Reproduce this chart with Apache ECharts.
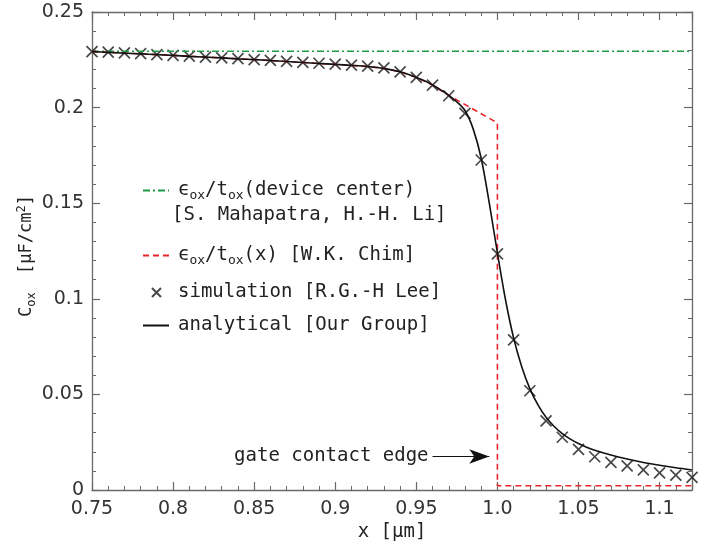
<!DOCTYPE html>
<html>
<head>
<meta charset="utf-8">
<script src="https://cdn.jsdelivr.net/npm/echarts/dist/echarts.min.js"></script>
<style>
  html, body { margin: 0; padding: 0; background: #fff; }
  #chart { width: 716px; height: 544px; }
</style>
</head>
<body>
<div id="chart"></div>
<script>
// 仿真数据 (x in µm, Cox in µF/cm²)
const simX = [0.75, 0.76, 0.77, 0.78, 0.79, 0.80, 0.81, 0.82, 0.83, 0.84, 0.85, 0.86, 0.87, 0.88, 0.89,
  0.90, 0.91, 0.92, 0.93, 0.94, 0.95, 0.96, 0.97, 0.98, 0.99, 1.00, 1.01, 1.02, 1.03, 1.04, 1.05,
  1.06, 1.07, 1.08, 1.09, 1.10, 1.11, 1.12]
const simY = [0.2293, 0.2290, 0.2286, 0.2282, 0.2277, 0.2273, 0.2269, 0.2264, 0.2260, 0.2256, 0.2251,
  0.2247, 0.2242, 0.2237, 0.2232, 0.2227, 0.2222, 0.2217, 0.2208, 0.2187, 0.2158, 0.2118, 0.2062,
  0.1970, 0.1726, 0.1235, 0.0785, 0.0519, 0.0362, 0.0276, 0.0213, 0.0174, 0.0145, 0.0126, 0.0105,
  0.0090, 0.0078, 0.0066]
// 解析模型曲线
const anaX = [0.75, 0.76, 0.77, 0.78, 0.79, 0.80, 0.81, 0.82, 0.83, 0.84, 0.85, 0.86, 0.87, 0.88, 0.89,
  0.90, 0.91, 0.92, 0.93, 0.94, 0.95, 0.955, 0.96, 0.965, 0.97, 0.975, 0.98, 0.985, 0.99, 0.995,
  1.00, 1.005, 1.01, 1.015, 1.02, 1.025, 1.03, 1.035, 1.04, 1.045, 1.05, 1.055, 1.06,
  1.07, 1.08, 1.09, 1.10, 1.11, 1.12]
const anaY = [0.2293, 0.2289, 0.2285, 0.2281, 0.2277, 0.2273, 0.2268, 0.2264, 0.2260, 0.2255, 0.2251,
  0.2246, 0.2241, 0.2236, 0.2231, 0.2226, 0.2221, 0.2215, 0.2205, 0.2187, 0.2158, 0.2140, 0.2118,
  0.2093, 0.2064, 0.2030, 0.1985, 0.1890, 0.1735, 0.1500,
  0.1240, 0.0995, 0.0795, 0.0645, 0.0530, 0.0445, 0.0380, 0.0332, 0.0295, 0.0266, 0.0243, 0.0224, 0.0208,
  0.0183, 0.0162, 0.0144, 0.0129, 0.0116, 0.0105]
// W.K. Chim 模型
const chimX = [0.75, 0.80, 0.85, 0.90, 0.92, 0.93, 0.94, 0.95, 0.96, 0.97, 1.00, 1.00, 1.12]
const chimY = [0.2293, 0.2273, 0.2251, 0.2226, 0.2215, 0.2205, 0.2187, 0.2158, 0.2118, 0.2064, 0.1920, 0.0022, 0.0022]
// 器件中心值
const centerX = [0.75, 1.12]
const centerY = [0.2295, 0.2295]
// 箭头注释
const arrowX = [0.96, 0.995]
const arrowY = 0.0175

const pair = (xs, ys) => xs.map((x, i) => [x, ys[i]])
const mono = 'DejaVu Sans Mono'
const axisColor = '#6a6a6a'
const subStyle = { fontSize: 13, fontFamily: mono, color: '#222', verticalAlign: 'bottom', lineHeight: 22 }
const legendRich = {
  t: { fontSize: 19, fontFamily: mono, color: '#222', lineHeight: 24 },
  sub: subStyle
}
const legendNames = {
  center: '{t|ϵ}{sub|ox}{t|/t}{sub|ox}{t|(device center)}',
  chim: '{t|ϵ}{sub|ox}{t|/t}{sub|ox}{t|(x) [W.K. Chim]}',
  sim: '{t|simulation [R.G.-H Lee]}',
  ana: '{t|analytical [Our Group]}'
}

const myChart = echarts.init(document.getElementById('chart'))

const xFmt = (v) => {
  if (Math.abs(v - 1) < 1e-9) return '1.0'
  if (Math.abs(v * 20 - Math.round(v * 20)) < 1e-6) return String(+v.toFixed(2))
  return ''
}
const baseAxis = {
  type: 'value',
  axisLine: { show: true, onZero: false, lineStyle: { color: axisColor, width: 1.3 } },
  axisTick: { show: true, inside: true, length: 8, lineStyle: { color: axisColor, width: 1.2 } },
  minorTick: { show: true, splitNumber: 5, length: 4, lineStyle: { color: axisColor, width: 1 } },
  splitLine: { show: false },
  minorSplitLine: { show: false }
}

const legendItem = (name, top, left, w, h, pad, hideSymbol) => ({
  data: [name],
  top: top,
  left: left,
  itemWidth: w,
  itemHeight: h,
  selectedMode: false,
  itemStyle: hideSymbol ? { opacity: 0 } : {},
  formatter: (n) => legendNames[n],
  textStyle: { rich: legendRich, padding: [0, 0, 0, pad] }
})

const option = {
  animation: false,
  grid: { left: 92, right: 24, top: 12, bottom: 54, outerBoundsMode: 'none', containLabel: false },
  xAxis: [
    Object.assign({}, baseAxis, {
      min: 0.75, max: 1.12, interval: 0.05,
      name: 'x [μm]', nameLocation: 'middle', nameGap: 33, nameMoveOverlap: false,
      nameTextStyle: { fontFamily: mono, fontSize: 19, color: '#222' },
      axisLabel: { formatter: xFmt, fontSize: 19, fontFamily: 'DejaVu Sans', color: '#333', margin: 10, hideOverlap: false }
    }),
    Object.assign({}, baseAxis, {
      position: 'top', min: 0.75, max: 1.12, interval: 0.05,
      axisLabel: { show: false }
    })
  ],
  yAxis: [
    Object.assign({}, baseAxis, {
      min: 0, max: 0.25, interval: 0.05,
      name: '{t|C}{sub|ox}{t| [μF/cm}{sup|2}{t|]}', nameLocation: 'middle', nameGap: 54, nameMoveOverlap: false,
      nameTextStyle: {
        padding: [0, 10, 0, 0],
        rich: {
          t: { fontSize: 17, fontFamily: mono, color: '#222', lineHeight: 22 },
          sub: { fontSize: 12, fontFamily: mono, color: '#222', verticalAlign: 'bottom', lineHeight: 20, padding: [0, 8, 0, 0] },
          sup: { fontSize: 12, fontFamily: mono, color: '#222', verticalAlign: 'top', lineHeight: 20 }
        }
      },
      axisLabel: { fontSize: 19, fontFamily: 'DejaVu Sans', color: '#333', margin: 8, hideOverlap: false }
    }),
    Object.assign({}, baseAxis, {
      position: 'right', min: 0, max: 0.25, interval: 0.05,
      axisLabel: { show: false }
    })
  ],
  legend: [
    legendItem('center', 176, 137, 26, 14, 4, true),
    legendItem('chim', 241, 137, 26, 14, 4, true),
    legendItem('sim', 278, 146, 9, 9, 12, false),
    legendItem('ana', 311, 137, 26, 14, 4, true)
  ],
  graphic: [
    {
      type: 'text', left: 172, top: 206,
      style: { text: '[S. Mahapatra, H.-H. Li]', font: '19px "DejaVu Sans Mono"', fill: '#222' }
    }
  ],
  series: [
    {
      name: 'center', type: 'line', data: pair(centerX, centerY), symbol: 'none',
      lineStyle: { color: '#1e9a48', width: 1.4, type: [7, 3, 2, 3] },
      itemStyle: { color: '#1e9a48' }
    },
    {
      name: 'chim', type: 'line', data: pair(chimX, chimY), symbol: 'none',
      lineStyle: { color: '#e8262b', width: 1.6, type: [6, 4] },
      itemStyle: { color: '#e8262b' }
    },
    {
      name: 'sim', type: 'scatter', data: pair(simX, simY),
      symbol: 'path://M0,0L10,10M10,0L0,10', symbolSize: 11,
      itemStyle: { color: 'rgba(0,0,0,0)', borderColor: '#1a1a1a', borderWidth: 1.7 },
      markLine: {
        silent: true,
        symbol: ['none', 'arrow'],
        symbolSize: [11, 20],
        lineStyle: { type: 'solid', color: '#111', width: 1.2 },
        label: {
          show: true, position: 'start', distance: 4, formatter: 'gate contact edge',
          fontFamily: mono, fontSize: 19, color: '#222'
        },
        data: [[{ coord: [arrowX[0], arrowY] }, { coord: [arrowX[1], arrowY] }]]
      }
    },
    {
      name: 'ana', type: 'line', data: pair(anaX, anaY), symbol: 'none',
      smooth: 0.3,
      lineStyle: { color: '#111', width: 1.6 },
      itemStyle: { color: '#111' }
    }
  ]
}
myChart.setOption(option)
</script>
</body>
</html>
